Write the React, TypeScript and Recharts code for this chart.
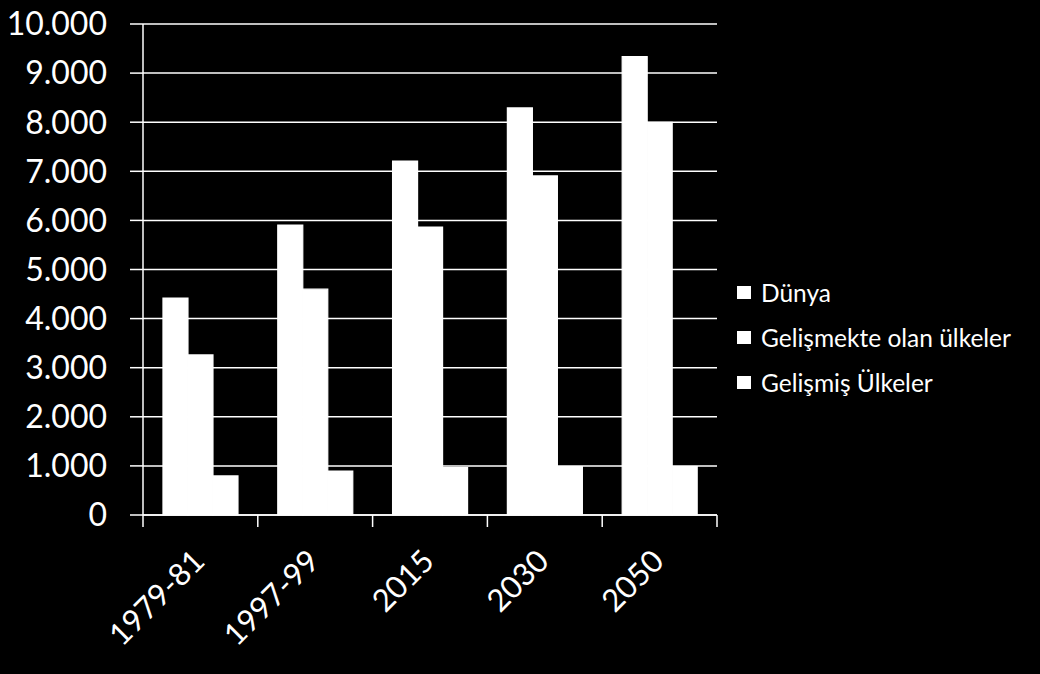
import { BarChart, Bar, XAxis, YAxis, CartesianGrid, Legend } from "recharts";

// dönemler ve seriler (milyon kişi)
const donemler = ["1979-81", "1997-99", "2015", "2030", "2050"];
const dunya = [4420, 5905, 7210, 8290, 9335];
const gelismekte = [3260, 4600, 5866, 6905, 7995];
const gelismis = [795, 895, 965, 985, 988];
const yTicks = [0, 1000, 2000, 3000, 4000, 5000, 6000, 7000, 8000, 9000, 10000];

const seriler = [
    { key: "dunya", name: "Dünya" },
    { key: "gelismekte", name: "Gelişmekte olan ülkeler" },
    { key: "gelismis", name: "Gelişmiş Ülkeler" },
];

const W = 1040;
const H = 674;
const MARGIN = { top: 24, right: 23, bottom: 0, left: 0 };
const Y_W = 143;
const X_H = 159;
const LEGEND_W = 300;
const FONT = "Lato, 'Open Sans', sans-serif";

const data = donemler.map((d, i) => ({
    donem: d,
    dunya: dunya[i],
    gelismekte: gelismekte[i],
    gelismis: gelismis[i],
}));

const plotW = W - MARGIN.left - MARGIN.right - Y_W - LEGEND_W;
const halfBand = plotW / donemler.length / 2;

const fmt = (v: number) => String(v).replace(/\B(?=(\d{3})+(?!\d))/g, ".");

function XTick(props: any) {
    const { x, y, payload, index } = props;
    const last = index === donemler.length - 1;
    const tx = x + 6;
    const ty = y + 48;
    return (
        <g>
            <line x1={x - halfBand} x2={x - halfBand} y1={y} y2={y + 12} stroke="#fff" strokeWidth={1.5} />
            {last && <line x1={x + halfBand} x2={x + halfBand} y1={y} y2={y + 12} stroke="#fff" strokeWidth={1.5} />}
            <text
                x={tx}
                y={ty}
                transform={`rotate(-45, ${tx}, ${ty})`}
                textAnchor="end"
                fill="#fff"
                fontSize={31}
                fontFamily={FONT}
            >
                {payload.value}
            </text>
        </g>
    );
}

function LegendContent() {
    return (
        <div style={{ paddingLeft: 20, fontFamily: FONT, fontSize: 24.5, color: "#fff" }}>
            {seriler.map((s) => (
                <div key={s.key} style={{ height: 45, display: "flex", alignItems: "center", whiteSpace: "nowrap" }}>
                    <span style={{ width: 14, height: 13, background: "#fff", display: "inline-block", marginRight: 10 }} />
                    {s.name}
                </div>
            ))}
        </div>
    );
}

export default function App() {
    return (
        <div style={{ width: W, height: H, background: "#000" }}>
            <style>{`body{margin:0;background:#000}`}</style>
            <BarChart width={W} height={H} data={data} margin={MARGIN} barCategoryGap="17.4%" barGap={0}>
                <CartesianGrid vertical={false} stroke="#fff" strokeWidth={1.5} />
                <XAxis
                    dataKey="donem"
                    height={X_H}
                    axisLine={{ stroke: "#fff", strokeWidth: 1.5 }}
                    tickLine={false}
                    tickSize={0}
                    tickMargin={0}
                    tick={<XTick />}
                    interval={0}
                />
                <YAxis
                    width={Y_W}
                    domain={[0, 10000]}
                    ticks={yTicks}
                    tickFormatter={fmt}
                    axisLine={{ stroke: "#fff", strokeWidth: 1.5 }}
                    tickLine={{ stroke: "#fff", strokeWidth: 1.5 }}
                    tickSize={13}
                    tickMargin={23}
                    tick={{ fill: "#fff", fontSize: 32, fontFamily: FONT }}
                    interval={0}
                />
                <Legend
                    layout="vertical"
                    align="right"
                    verticalAlign="middle"
                    width={LEGEND_W}
                    content={<LegendContent />}
                />
                {seriler.map((s) => (
                    <Bar key={s.key} dataKey={s.key} name={s.name} fill="#fff" stroke="#fff" strokeWidth={1.2} isAnimationActive={false} />
                ))}
            </BarChart>
        </div>
    );
}
